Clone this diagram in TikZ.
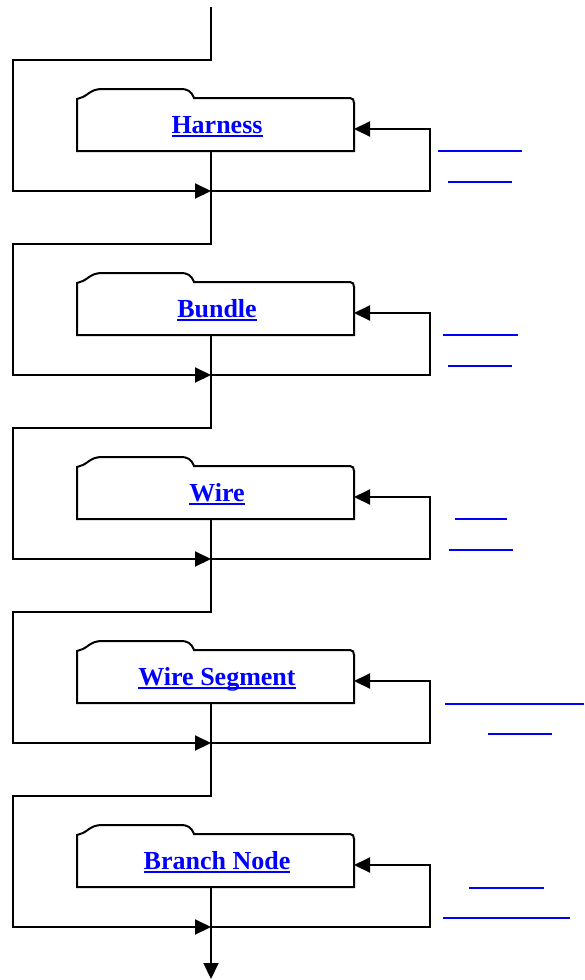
\documentclass[tikz,border=0pt]{standalone}
\usepackage{fontspec}
\setmainfont{Liberation Serif}
\usetikzlibrary{arrows.meta,calc}
\definecolor{linkblue}{RGB}{0,0,255}
\newcommand{\ulink}[1]{\setbox0\hbox{#1}\rlap{\rule[-3.5pt]{\wd0}{2pt}}\box0}
\begin{document}
\begin{tikzpicture}[x=1pt,y=-1pt,line width=2pt,
  tip/.style={-{Triangle[length=16pt,width=15pt]}},
  boxnode/.style={draw=none,minimum width=277pt,minimum height=52pt,inner sep=0pt,outer sep=0pt},
  lbl/.style={anchor=base,text=linkblue,font=\fontsize{26}{30}\selectfont\bfseries,inner sep=0pt},
  bline/.style={draw=linkblue,line width=2.2pt}]
\useasboundingbox[fill=white] (0,0) rectangle (584,980);
\coordinate (start) at (211,7);
\foreach \k/\name/\ax/\bx/\ay/\cx/\dx/\cy in {
  0/Harness/438/522/151/448/512/182,
  1/Bundle/443/518/335/448/512/366,
  2/Wire/455/507/519/449/513/550,
  3/Wire Segment/445/584/704/488/552/734,
  4/Branch Node/469/544/888/443/570/918}{
  \pgfmathsetmacro\o{184*\k}
  \node[boxnode] (b\k) at (215.5,\o+125) {};
  \draw (77,\o+151) -- (77,\o+99) -- (80,\o+98)
    .. controls (88,\o+96) and (90,\o+89) .. (102,\o+89) -- (180,\o+89)
    .. controls (188,\o+89) and (191,\o+91) .. (194,\o+98) -- (350,\o+98)
    .. controls (353,\o+98) and (354,\o+100) .. (354,\o+103) -- (354,\o+151) -- cycle;
  \node[lbl] (t\k) at (217,\o+133) {\ulink{\name}};
  \coordinate (p\k) at (211,\o+7);
  \coordinate (top\k) at (211,\o+60);
  \coordinate (lt\k) at (13,\o+60);
  \coordinate (lb\k) at (13,\o+191);
  \coordinate (j\k) at (211,\o+191);
  \coordinate (rb\k) at (430,\o+191);
  \coordinate (rt\k) at (430,\o+129);
  \draw[tip] (p\k) -- (top\k) -- (lt\k) -- (lb\k) -- (j\k);
  \draw (b\k.south -| j\k) -- (j\k);
  \draw[tip] (j\k) -- (rb\k) -- (rt\k) -- (b\k.east |- rt\k);
  \draw[bline] (\ax,\ay) -- (\bx,\ay);
  \draw[bline] (\cx,\cy) -- (\dx,\cy);
}
\coordinate (end) at (211,979);
\draw[tip] (j4) -- (end);
\end{tikzpicture}
\end{document}
